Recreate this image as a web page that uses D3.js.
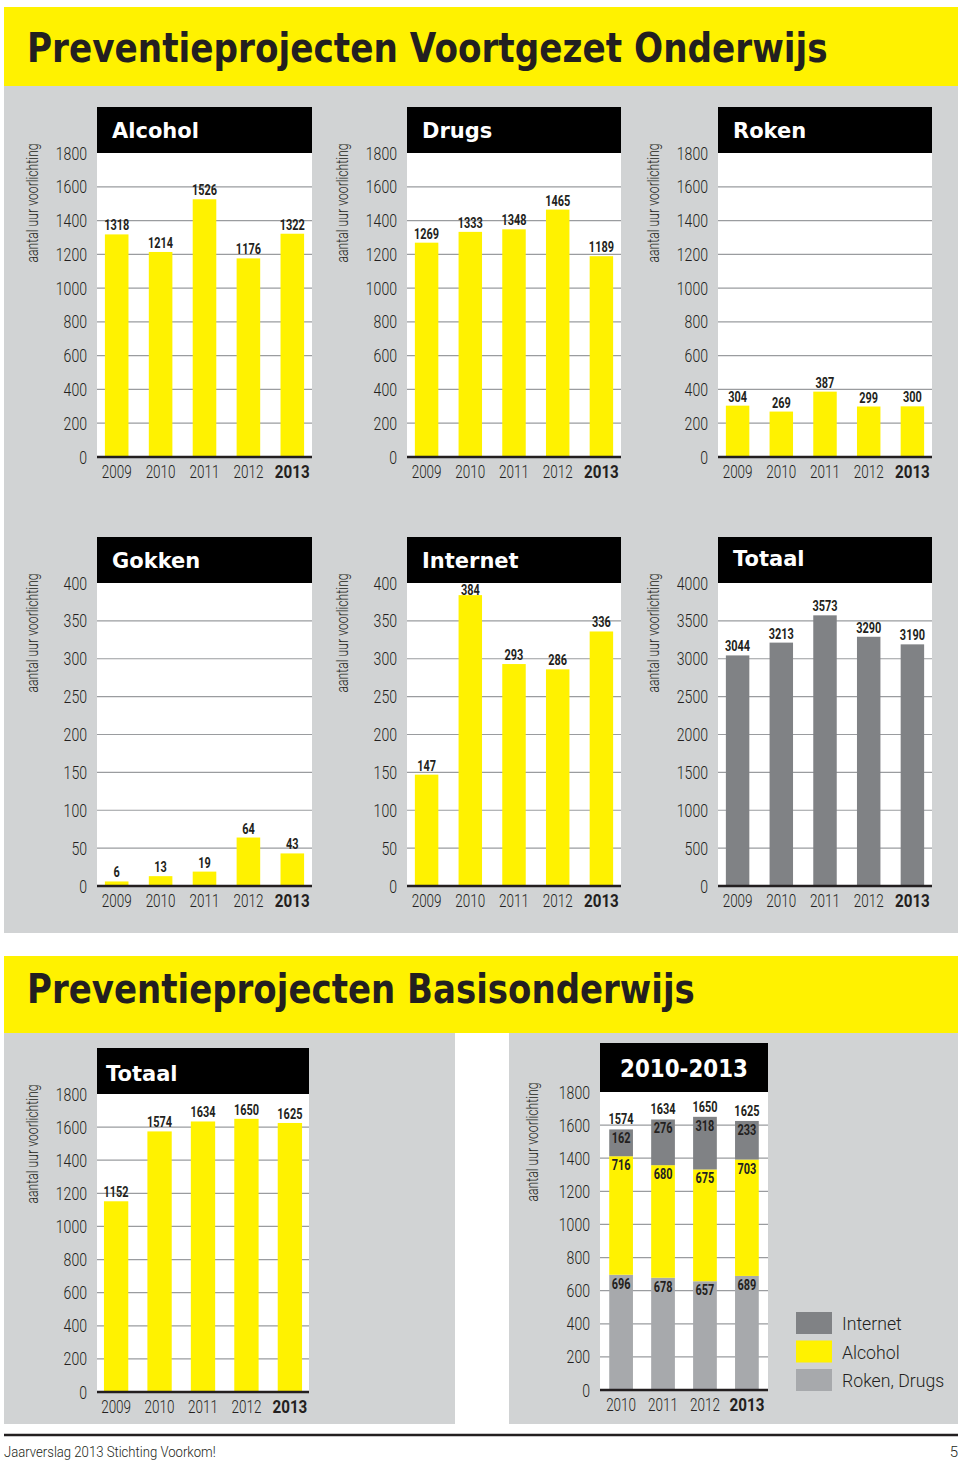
<!DOCTYPE html>
<html><head><meta charset="utf-8">
<script src="https://cdn.jsdelivr.net/npm/d3@7"></script>
<style>
html,body{margin:0;padding:0;background:#fff;}
svg{display:block;}
</style></head>
<body>
<svg id="chart" width="960" height="1463"></svg>
<script>
// ---------------- DATA ----------------
const years5 = ["2009", "2010", "2011", "2012", "2013"];
const alcoholVO = [1318, 1214, 1526, 1176, 1322];
const drugsVO = [1269, 1333, 1348, 1465, 1189];
const rokenVO = [304, 269, 387, 299, 300];
const gokkenVO = [6, 13, 19, 64, 43];
const internetVO = [147, 384, 293, 286, 336];
const totaalVO = [3044, 3213, 3573, 3290, 3190];
const totaalBO = [1152, 1574, 1634, 1650, 1625];

const years4 = ["2010", "2011", "2012", "2013"];
const bo_rokenDrugs = [696, 678, 657, 689];
const bo_alcohol = [716, 680, 675, 703];
const bo_internet = [162, 276, 318, 233];
const bo_totals = [1574, 1634, 1650, 1625];
const legendLabels = ["Internet", "Alcohol", "Roken, Drugs"];

const ticks1800 = [0, 200, 400, 600, 800, 1000, 1200, 1400, 1600, 1800];
const ticks400 = [0, 50, 100, 150, 200, 250, 300, 350, 400];
const ticks4000 = [0, 500, 1000, 1500, 2000, 2500, 3000, 3500, 4000];

const titleVO = "Preventieprojecten Voortgezet Onderwijs";
const titleBO = "Preventieprojecten Basisonderwijs";
const yTitle = "aantal uur voorlichting";
const footerText = "Jaarverslag 2013 Stichting Voorkom!";
const pageNo = "5";

// ---------------- STYLE ----------------
const C = {yellow: "#fff200", bg: "#d1d3d4", dark: "#808285", light: "#a7a9ac",
           grid: "#9a9c9f", ink: "#231f20"};
const LIGHT = "Roboto, 'Liberation Sans', sans-serif";
const HEAVY = "'DejaVu Sans', 'Open Sans', sans-serif";

const svg = d3.select("#chart");

function squeeze(sel, f) {
  sel.each(function () {
    const w = this.getComputedTextLength();
    if (w > 0) {
      this.setAttribute("textLength", w * f);
      this.setAttribute("lengthAdjust", "spacingAndGlyphs");
    }
  });
}
function fitTo(sel, target) {
  sel.each(function () {
    this.setAttribute("textLength", target);
    this.setAttribute("lengthAdjust", "spacingAndGlyphs");
  });
}
// horizontally scale a text (placed at x,y) so its width becomes target
function scaledText(x, y, str, target, attrs) {
  const g = svg.append("g");
  const t = g.append("text").text(str);
  Object.entries(attrs).forEach(([k, v]) => t.attr(k, v));
  const w = t.node().getComputedTextLength();
  g.attr("transform", `translate(${x},${y}) scale(${target / w},1)`);
  return t;
}

// ---------------- BACKGROUNDS ----------------
svg.append("rect").attr("x", 4).attr("y", 7).attr("width", 954).attr("height", 79).attr("fill", C.yellow);
svg.append("rect").attr("x", 4).attr("y", 86).attr("width", 954).attr("height", 847).attr("fill", C.bg);
svg.append("rect").attr("x", 4).attr("y", 956).attr("width", 954).attr("height", 77).attr("fill", C.yellow);
svg.append("rect").attr("x", 4).attr("y", 1033).attr("width", 451).attr("height", 391).attr("fill", C.bg);
svg.append("rect").attr("x", 509).attr("y", 1033).attr("width", 449).attr("height", 391).attr("fill", C.bg);

const titleAttrs = {"font-family": HEAVY, "font-weight": 700, "font-size": 40, fill: C.ink};
scaledText(27, 62, titleVO, 801, titleAttrs);
scaledText(27, 1003, titleBO, 668, titleAttrs);

// ---------------- PANEL ----------------
function panel(o) {
  const g = svg.append("g");
  const x = d3.scaleBand().domain(o.cats).range([o.x0, o.x0 + o.w])
    .paddingInner(o.pi).paddingOuter(o.po);
  const y = d3.scaleLinear().domain([0, o.ticks[o.ticks.length - 1]]).range([o.zero, o.plotTop]);

  g.append("rect").attr("x", o.x0).attr("y", o.headTop).attr("width", o.w)
    .attr("height", o.plotTop - o.headTop).attr("fill", "#000");
  g.append("rect").attr("x", o.x0).attr("y", o.plotTop).attr("width", o.w)
    .attr("height", o.zero - o.plotTop).attr("fill", "#fff");

  g.selectAll("line.grid").data(o.ticks.slice(1, -1)).join("line").attr("class", "grid")
    .attr("x1", o.x0).attr("x2", o.x0 + o.w)
    .attr("y1", d => y(d)).attr("y2", d => y(d))
    .attr("stroke", C.grid).attr("stroke-width", 1.2);

  // header title
  const ht = g.append("text").text(o.title)
    .attr("font-family", HEAVY).attr("font-weight", 700).attr("font-size", o.titleSize || 21)
    .attr("fill", "#fff").attr("y", o.headTop + (o.titleDy || 31));
  if (o.titleCenter) ht.attr("x", o.x0 + o.w / 2).attr("text-anchor", "middle");
  else ht.attr("x", o.x0 + (o.titleDx || 15));
  if (o.titleFit) ht.call(fitTo, o.titleFit);

  const valStyle = s => s.attr("text-anchor", "middle")
    .attr("font-family", LIGHT).attr("font-weight", 700).attr("font-size", 14).attr("fill", C.ink);

  // bars
  if (o.stack) {
    const layers = d3.stack().keys(o.stack.keys)(o.stack.rows);
    layers.forEach((layer, li) => {
      g.selectAll(null).data(layer).join("rect")
        .attr("x", d => x(d.data.year)).attr("width", x.bandwidth())
        .attr("y", d => y(d[1])).attr("height", d => y(d[0]) - y(d[1]))
        .attr("fill", o.stack.colors[li]);
      g.selectAll(null).data(layer).join("text")
        .attr("x", d => x(d.data.year) + x.bandwidth() / 2)
        .attr("y", d => y(d[1]) + 14)
        .call(valStyle)
        .text(d => d[1] - d[0])
        .call(squeeze, 0.78);
    });
    g.selectAll(null).data(o.stack.rows).join("text")
      .attr("x", d => x(d.year) + x.bandwidth() / 2)
      .attr("y", d => y(d.total) - 5)
      .call(valStyle)
      .text(d => d.total)
      .call(squeeze, 0.78);
  } else {
    const rows = o.cats.map((c, i) => ({c, v: o.values[i]}));
    g.selectAll(null).data(rows).join("rect")
      .attr("x", d => x(d.c)).attr("width", x.bandwidth())
      .attr("y", d => y(d.v)).attr("height", d => o.zero - y(d.v))
      .attr("fill", o.color);
    g.selectAll(null).data(rows).join("text")
      .attr("x", d => x(d.c) + x.bandwidth() / 2)
      .attr("y", d => Math.max(y(d.v) - 4, o.plotTop + 12))
      .call(valStyle)
      .text(d => d.v)
      .call(squeeze, 0.78);
  }

  // zero line
  g.append("line").attr("x1", o.x0).attr("x2", o.x0 + o.w)
    .attr("y1", o.zero).attr("y2", o.zero).attr("stroke", C.ink).attr("stroke-width", 2.4);

  // y axis
  const ay = g.append("g").attr("transform", `translate(${o.x0 - 10},0)`)
    .call(d3.axisLeft(y).tickValues(o.ticks).tickSize(0).tickPadding(0).tickFormat(d3.format("d")));
  ay.select(".domain").remove();
  ay.attr("font-family", LIGHT).attr("font-size", 19);
  ay.selectAll("text").attr("fill", C.ink).attr("font-weight", 300).call(squeeze, 0.74);

  // x axis
  const ax = g.append("g").attr("transform", `translate(0,${o.zero})`)
    .call(d3.axisBottom(x).tickSize(0).tickPadding(8));
  ax.select(".domain").remove();
  ax.attr("font-family", LIGHT).attr("font-size", 19);
  ax.selectAll("text").attr("fill", C.ink)
    .attr("font-weight", (d, i, n) => i === n.length - 1 ? 700 : 300)
    .each(function (d, i, n) { d3.select(this).call(squeeze, i === n.length - 1 ? 0.8 : 0.71); });

  // y title
  g.append("text")
    .attr("transform", `translate(${o.x0 - (o.yTitleDx || 59)},${o.plotTop + 50}) rotate(-90)`)
    .attr("text-anchor", "middle")
    .attr("font-family", LIGHT).attr("font-weight", 300).attr("font-size", 16).attr("fill", C.ink)
    .text(yTitle).call(fitTo, 119);
  return {x, y};
}

const colsX = [97, 407, 718];
const row1 = {headTop: 107, plotTop: 153, zero: 457};
const row2 = {headTop: 537, plotTop: 583, zero: 886};

panel({...row1, x0: colsX[0], w: 215, pi: 0.463, po: 0.18, cats: years5, values: alcoholVO, ticks: ticks1800, color: C.yellow, title: "Alcohol"});
panel({...row1, x0: colsX[1], w: 214, pi: 0.463, po: 0.18, cats: years5, values: drugsVO, ticks: ticks1800, color: C.yellow, title: "Drugs"});
panel({...row1, x0: colsX[2], w: 214, pi: 0.463, po: 0.18, cats: years5, values: rokenVO, ticks: ticks1800, color: C.yellow, title: "Roken"});
panel({...row2, x0: colsX[0], w: 215, pi: 0.463, po: 0.18, cats: years5, values: gokkenVO, ticks: ticks400, color: C.yellow, title: "Gokken"});
panel({...row2, x0: colsX[1], w: 214, pi: 0.463, po: 0.18, cats: years5, values: internetVO, ticks: ticks400, color: C.yellow, title: "Internet"});
panel({...row2, x0: colsX[2], w: 214, pi: 0.463, po: 0.18, cats: years5, values: totaalVO, ticks: ticks4000, color: C.dark, title: "Totaal", titleDy: 29});

panel({headTop: 1048, plotTop: 1094, zero: 1392, x0: 97, w: 212, pi: 0.44, po: 0.16, cats: years5, values: totaalBO,
       ticks: ticks1800, color: C.yellow, title: "Totaal", titleDx: 9, titleDy: 33});

const boRows = years4.map((yr, i) => ({year: yr, roken: bo_rokenDrugs[i], alcohol: bo_alcohol[i],
                                       internet: bo_internet[i], total: bo_totals[i]}));
panel({headTop: 1043, plotTop: 1092, zero: 1390, x0: 600, w: 168, pi: 0.434, po: 0.22, cats: years4,
       ticks: ticks1800, title: "2010-2013", titleCenter: true, titleSize: 24, titleDy: 34, titleFit: 128, yTitleDx: 62,
       stack: {rows: boRows, keys: ["roken", "alcohol", "internet"], colors: [C.light, C.yellow, C.dark]}});

// legend
const legColors = [C.dark, C.yellow, C.light];
const leg = svg.append("g").selectAll("g").data(legendLabels).join("g")
  .attr("transform", (d, i) => `translate(796,${1312 + i * 28.5})`);
leg.append("rect").attr("width", 36).attr("height", 22).attr("fill", (d, i) => legColors[i]);
leg.append("text").attr("x", 46).attr("y", 18).text(d => d)
  .attr("font-family", LIGHT).attr("font-weight", 300).attr("font-size", 19).attr("fill", C.ink)
  .call(squeeze, 0.93);

// footer
svg.append("line").attr("x1", 4).attr("x2", 958).attr("y1", 1435).attr("y2", 1435)
  .attr("stroke", C.ink).attr("stroke-width", 2.5);
scaledText(4, 1457, footerText, 212,
  {"font-family": LIGHT, "font-weight": 300, "font-size": 15, fill: C.ink});
svg.append("text").attr("x", 958).attr("y", 1457).attr("text-anchor", "end").text(pageNo)
  .attr("font-family", LIGHT).attr("font-weight", 300).attr("font-size", 15).attr("fill", C.ink);
</script>
</body></html>
